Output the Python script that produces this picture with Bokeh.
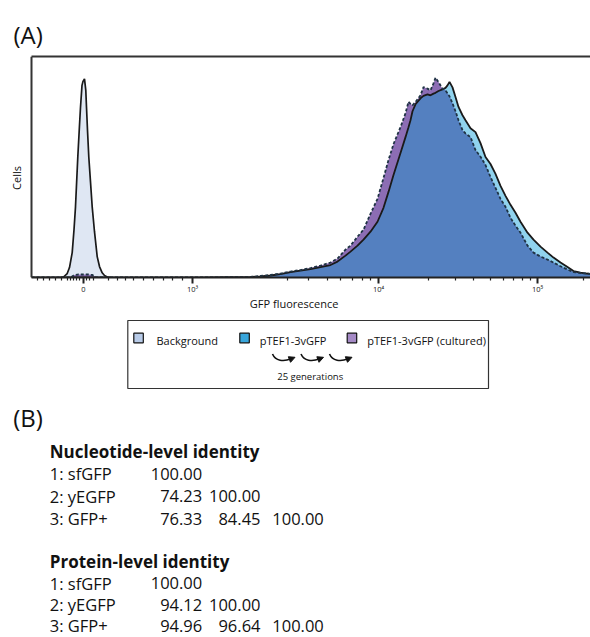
import numpy as np
from bokeh.plotting import figure
from bokeh.models import Range1d, FixedTicker, LinearAxis, Span, Arrow, NormalHead
from bokeh.layouts import column
from bokeh.embed import file_html
from bokeh.resources import INLINE
from bokeh.core.properties import value

FONT = "Open Sans"

# ---------------- data (display channel of the biexponential GFP axis, cell counts) -------------
bg_channel = [29, 32, 35.7, 38, 40.7, 42.5, 44, 46.3, 48, 49, 50.5, 51.5, 53, 54.3, 55, 56,
              57.3, 59, 60.7, 63, 65.7, 68, 70.7, 73, 75.7, 79]
bg_cells = [0, 0.5, 4, 10, 25, 48, 71, 121, 153, 171, 193, 197, 199.5, 188, 171, 148,
            121, 96, 71, 46, 21, 11, 4.7, 2, 0.5, 0]

gfp_channel = [0, 39, 43, 47, 52, 57, 61, 65, 169,
               219, 229, 239, 249, 259, 269, 279, 289, 299, 306,
               314, 319, 326, 332, 339, 346, 352, 357, 362, 369,
               374, 377, 379, 381, 384, 389, 392, 396, 399, 402,
               404, 407, 411, 414, 416, 418, 421, 424, 427, 431,
               434, 439, 444, 449, 454, 459, 464, 469, 474, 479,
               484, 489, 496, 502, 509, 516, 522, 529, 536, 542,
               549, 555, 559]
ptef1_cells = [0, 0, 0, 0, 0, 0, 0, 0, 0,
               0.5, 1, 2, 3.5, 5.5, 7, 8.5, 10.5, 12.5, 16,
               22, 26, 32, 38, 46, 56, 70, 86, 103, 125,
               141, 151, 158, 167, 174, 180, 182.5, 184, 183, 184.7,
               185.5, 187.3, 189, 190.5, 193, 196.5, 191, 181.3, 171.3, 163,
               158, 150, 146, 135, 121, 114, 104, 92, 82, 73,
               65, 56, 45, 38, 31, 25, 20, 15, 10.5, 6.5,
               5, 4, 3.5]
cultured_cells = [0, 0, 2.5, 3, 3, 3, 2.5, 0, 0,
                  0.5, 1.5, 2.5, 4, 6, 7.5, 9.5, 12, 15, 19,
                  28, 32, 41, 48, 64, 79, 100, 118, 134, 151,
                  165, 176.5, 174.5, 173, 176.3, 183, 191.3, 189.7, 188, 195,
                  200.7, 196.3, 189.7, 188, 185, 182, 175, 167, 158, 148,
                  144.7, 141, 128, 121.3, 113, 101, 90, 79, 71, 60,
                  52, 45, 32, 25, 21, 18, 15, 11.3, 8, 5.5,
                  4.5, 4, 3.5]

major_ticks = [52, 161, 347, 506]
major_labels = ["0", "10³", "10⁴", "10⁵"]
minor_ticks = [6, 12, 18, 24, 30, 36, 39, 42, 45, 48, 55, 58, 62, 77, 86, 94, 102, 112, 122,
               132, 141, 151, 256, 277, 296, 309, 321, 331, 339, 397, 424, 442, 459, 472,
               482, 491, 499, 552]

legend_names = ["Background", "pTEF1-3vGFP", "pTEF1-3vGFP (cultured)"]
legend_colors = ["#b8cbe8", "#38a6dc", "#a58ac6"]

row_labels = ["1: sfGFP", "2: yEGFP", "3: GFP+"]
nucleotide_identity = [[100.00], [74.23, 100.00], [76.33, 84.45, 100.00]]
protein_identity = [[100.00], [94.12, 100.00], [94.96, 96.64, 100.00]]

INK = "#111111"

# ---------------- top panel: histogram ----------------
p = figure(width=590, height=296, x_range=Range1d(-31, 559), y_range=Range1d(0, 222),
           output_backend="svg", toolbar_location=None, x_axis_type=None, y_axis_type=None,
           min_border_left=0, min_border_right=0, min_border_top=56, min_border_bottom=18)
p.outline_line_color = None
p.background_fill_color = "white"
p.border_fill_color = "white"

p.title.text = "(A)"
p.title.align = "left"
p.title.offset = 13
p.title.standoff = 11
p.title.text_font = FONT
p.title.text_font_size = "24px"
p.title.text_font_style = "normal"
p.title.text_color = INK

x_g = np.array(gfp_channel, dtype=float)
s = np.array(ptef1_cells, dtype=float)
d = np.array(cultured_cells, dtype=float)
overlap = np.minimum(s, d)

p.varea(x=bg_channel, y1=0, y2=bg_cells, fill_color="#dfe7f3")
p.line(bg_channel, bg_cells, line_color="#1a1a1a", line_width=1.7)
p.varea(x=x_g, y1=0, y2=s, fill_color="#90d3ee")
p.varea(x=x_g, y1=0, y2=d, fill_color="#8c6db4")
p.varea(x=x_g, y1=0, y2=overlap, fill_color="#5480c0")
p.line(x_g, s, line_color="#1a1a1a", line_width=1.8)
p.line(x_g, d, line_color="#1f3344", line_width=1.8, line_dash="3 2")

xaxis = LinearAxis(ticker=FixedTicker(ticks=major_ticks, minor_ticks=minor_ticks),
                   major_label_overrides={t: l for t, l in zip(major_ticks, major_labels)},
                   bounds=(0, 559))
xaxis.axis_line_width = 2
xaxis.axis_line_color = "#222222"
xaxis.major_tick_in = 0
xaxis.major_tick_out = 6
xaxis.major_tick_line_width = 2
xaxis.major_tick_line_color = "#222222"
xaxis.minor_tick_in = 0
xaxis.minor_tick_out = 3
xaxis.minor_tick_line_width = 1.2
xaxis.minor_tick_line_color = "#222222"
xaxis.major_label_standoff = 0
xaxis.major_label_text_font = FONT
xaxis.major_label_text_font_size = "7.5px"
xaxis.major_label_text_color = "#222222"
p.add_layout(xaxis, "below")

top_axis = LinearAxis(ticker=FixedTicker(ticks=[]), bounds=(0, 559))
top_axis.axis_line_width = 2
top_axis.axis_line_color = "#333333"
top_axis.major_tick_out = 0
top_axis.minor_tick_out = 0
top_axis.major_label_text_font_size = "0px"
p.add_layout(top_axis, "above")

p.add_layout(Span(location=0, dimension="height", line_color="#333333", line_width=2))

p.text(x=[-15], y=[100], text=["Cells"], angle=np.pi / 2, text_font=value(FONT),
       text_font_size="11px", text_align="center", text_baseline="middle", text_color=INK)

# ---------------- bottom panel: axis title, legend and identity tables ----------------
q = figure(width=590, height=340, x_range=Range1d(0, 590), y_range=Range1d(636, 296),
           output_backend="svg", toolbar_location=None, x_axis_type=None, y_axis_type=None,
           min_border=0)
q.outline_line_color = None
q.background_fill_color = "white"
q.border_fill_color = "white"


def put(xs, ys, texts, size, align="left", style="normal"):
    q.text(x=xs, y=ys, text=texts, text_font=value(FONT), text_font_size=size,
           text_font_style=style, text_align=align, text_baseline="middle", text_color=INK)


put([249.3], [303], ["GFP fluorescence"], "11px")

# legend box
q.quad(left=[127.3], right=[488], top=[320], bottom=[388], fill_color=None,
       line_color="#333333", line_width=1.2)
sw_left = [133.3, 239.3, 346.7]
txt_left = [156, 259.3, 366.7]
q.quad(left=sw_left, right=[x + 9.5 for x in sw_left], top=[332.7] * 3, bottom=[342.3] * 3,
       fill_color=legend_colors, line_color=INK, line_width=1.2)
put(txt_left, [339.5] * 3, legend_names, "11px")

# curved arrows ("25 generations")
arr_left = [272, 300.5, 329]
q.bezier(x0=arr_left, y0=[353.5] * 3, x1=[x + 18.5 for x in arr_left], y1=[358.3] * 3,
         cx0=[x + 3 for x in arr_left], cy0=[360.5] * 3,
         cx1=[x + 11 for x in arr_left], cy1=[361.5] * 3,
         line_color=INK, line_width=1.6)
for xl in arr_left:
    q.add_layout(Arrow(end=NormalHead(size=6, fill_color=INK, line_color=INK),
                       x_start=xl + 17, y_start=359, x_end=xl + 22.5, y_end=356.8,
                       line_color=INK, line_width=1.2))
put([276.7], [375.5], ["25 generations"], "9.5px")

# (B)
put([12.7], [416.5], ["(B)"], "24px")

col_right = [201.7, 260, 323.3]


def draw_table(title, matrix, y_title, y_rows):
    put([49.3], [y_title], [title], "17px", style="bold")
    put([49.3] * 3, y_rows, row_labels, "16.5px")
    xs, ys, ts = [], [], []
    for i, row in enumerate(matrix):
        for j, v in enumerate(row):
            xs.append(col_right[j])
            ys.append(y_rows[i])
            ts.append("%.2f" % v)
    put(xs, ys, ts, "16.5px", align="right")


draw_table("Nucleotide-level identity", nucleotide_identity, 450.5, [473.4, 495.8, 518.3])
draw_table("Protein-level identity", protein_identity, 561, [582.5, 604, 625.3])

layout = column(p, q)
open("out.html", "w").write(file_html(layout, INLINE))
